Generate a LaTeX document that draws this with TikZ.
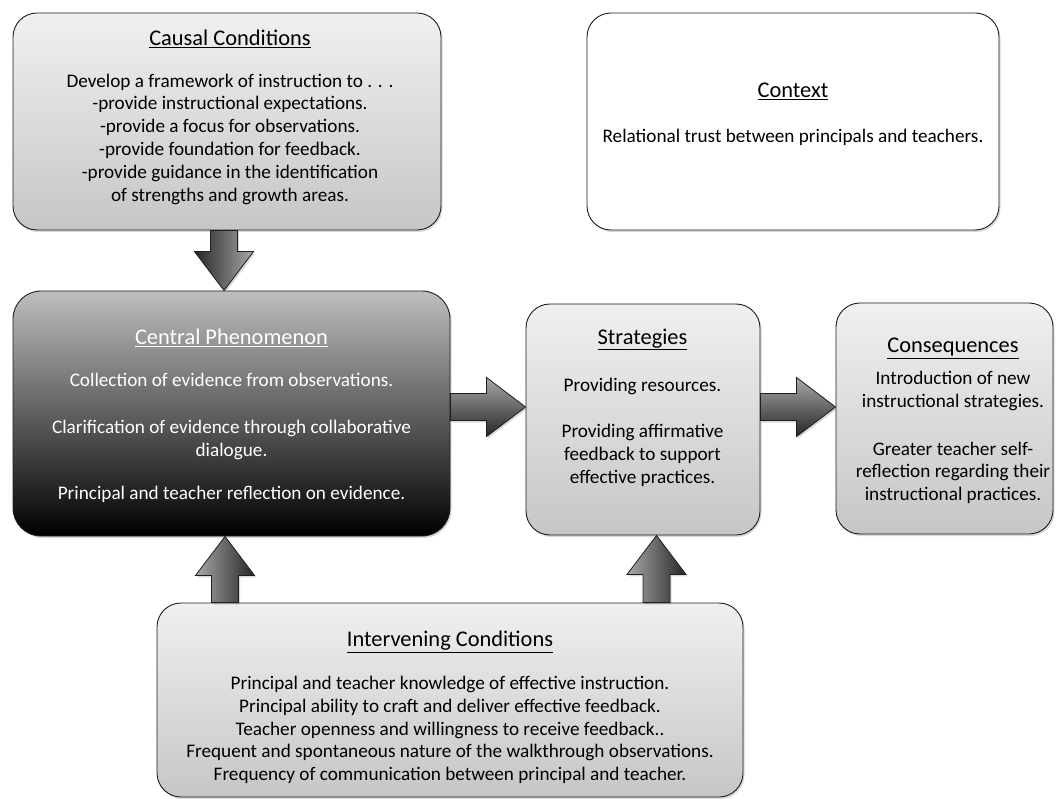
\documentclass[tikz,border=0pt]{standalone}
\usepackage{fontspec}
\setmainfont{Carlito}
\usetikzlibrary{calc,shadows}
\definecolor{boxtop}{HTML}{F0F0F0}
\definecolor{boxbot}{HTML}{C6C6C6}
\definecolor{centop}{HTML}{BEBEBE}
\definecolor{edgecol}{HTML}{1E1E1E}
\definecolor{arlight}{HTML}{A8A8A8}
\definecolor{ardark}{HTML}{262626}
\newcommand\boxtitle[1]{{\fontsize{22.4}{23}\selectfont\underline{#1}}}
\newcommand\blockarrow[3]{%
  \coordinate (ba-h) at ($(#3)!39pt!(#2)$);
  \path[#1] ($(#2)!13.5pt!90:(#3)$) -- ($(ba-h)!13.5pt!-90:(#2)$)
    -- ($(ba-h)!29.5pt!-90:(#2)$) -- (#3) -- ($(ba-h)!29.5pt!90:(#2)$)
    -- ($(ba-h)!13.5pt!90:(#2)$) -- ($(#2)!13.5pt!-90:(#3)$) -- cycle;
}
\tikzset{
  shad/.style={drop shadow={shadow xshift=1.5pt, shadow yshift=-2pt, opacity=0.3}},
  box/.style={shad, draw=edgecol, line width=0.9pt, rounded corners=24pt,
    top color=boxtop, bottom color=boxbot, inner sep=0pt},
  whitebox/.style={shad, draw=edgecol, line width=0.9pt, rounded corners=24pt,
    fill=white, inner sep=0pt},
  darkbox/.style={shad, draw=edgecol, line width=0.9pt, rounded corners=28pt,
    top color=centop, bottom color=black, inner sep=0pt},
  txt/.style={align=center, inner sep=0pt, anchor=north,
    font=\fontsize{19.2}{22.8}\selectfont},
  barrow/.style={shad, draw=edgecol, line width=0.8pt},
  arrdown/.style={barrow, left color=ardark, right color=arlight},
  arrright/.style={barrow, top color=arlight, bottom color=ardark},
  arrup/.style={barrow, left color=arlight, right color=ardark},
}
\begin{document}
\begin{tikzpicture}[x=1pt,y=-1pt]
\useasboundingbox (0,0) rectangle (1057,799);
% boxes
\node[box, minimum width=428pt, minimum height=217pt] (causal) at (227,121.5) {};
\node[whitebox, minimum width=412pt, minimum height=217pt] (context) at (793,121.5) {};
\node[darkbox, minimum width=437pt, minimum height=245pt] (central) at (231.5,413.5) {};
\node[box, minimum width=234pt, minimum height=231pt] (strat) at (643,419.5) {};
\node[box, minimum width=217pt, minimum height=231pt] (cons) at (944.5,418.5) {};
\node[box, minimum width=586pt, minimum height=194pt] (interv) at (450,700) {};
% texts
\node[txt] (causaltxt) at (230,29.5) {\boxtitle{Causal Conditions}\\[19pt]
Develop a framework of instruction to . . .\\
-provide instructional expectations.\\
-provide a focus for observations.\\
-provide foundation for feedback.\\
-provide guidance in the identification\\
of strengths and growth areas.};
\node[txt] (contexttxt) at (793,83) {\boxtitle{Context}\\[22pt]
Relational trust between principals and teachers.};
\node[txt, text=white] (centraltxt) at (231.5,328.5) {\boxtitle{Central Phenomenon}\\[19pt]
Collection of evidence from observations.\\[25pt]
Clarification of evidence through collaborative\\
dialogue.\\[20pt]
Principal and teacher reflection on evidence.};
\node[txt] (strattxt) at (642.5,328.5) {\boxtitle{Strategies}\\[25pt]
Providing resources.\\[23pt]
Providing affirmative\\
feedback to support\\
effective practices.};
\node[txt] (constxt) at (953,338) {\boxtitle{Consequences}\\[9pt]
Introduction of new\\
instructional strategies.\\[25pt]
Greater teacher self-\\
reflection regarding their\\
instructional practices.};
\node[txt] (intervtxt) at (450,631) {\boxtitle{Intervening Conditions}\\[20pt]
Principal and teacher knowledge of effective instruction.\\
Principal ability to craft and deliver effective feedback.\\
Teacher openness and willingness to receive feedback..\\
Frequent and spontaneous nature of the walkthrough observations.\\
Frequency of communication between principal and teacher.};
% arrow axes
\coordinate (axa) at (224,0);
\coordinate (axl) at (225,0);
\coordinate (axr) at (656.5,0);
\coordinate (aym) at (0,407);
% block arrows
\blockarrow{arrdown}{causal.south -| axa}{central.north -| axa}
\blockarrow{arrright}{central.east |- aym}{strat.west |- aym}
\blockarrow{arrright}{strat.east |- aym}{cons.west |- aym}
\blockarrow{arrup}{interv.north -| axl}{central.south -| axl}
\blockarrow{arrup}{interv.north -| axr}{strat.south -| axr}
\end{tikzpicture}
\end{document}
